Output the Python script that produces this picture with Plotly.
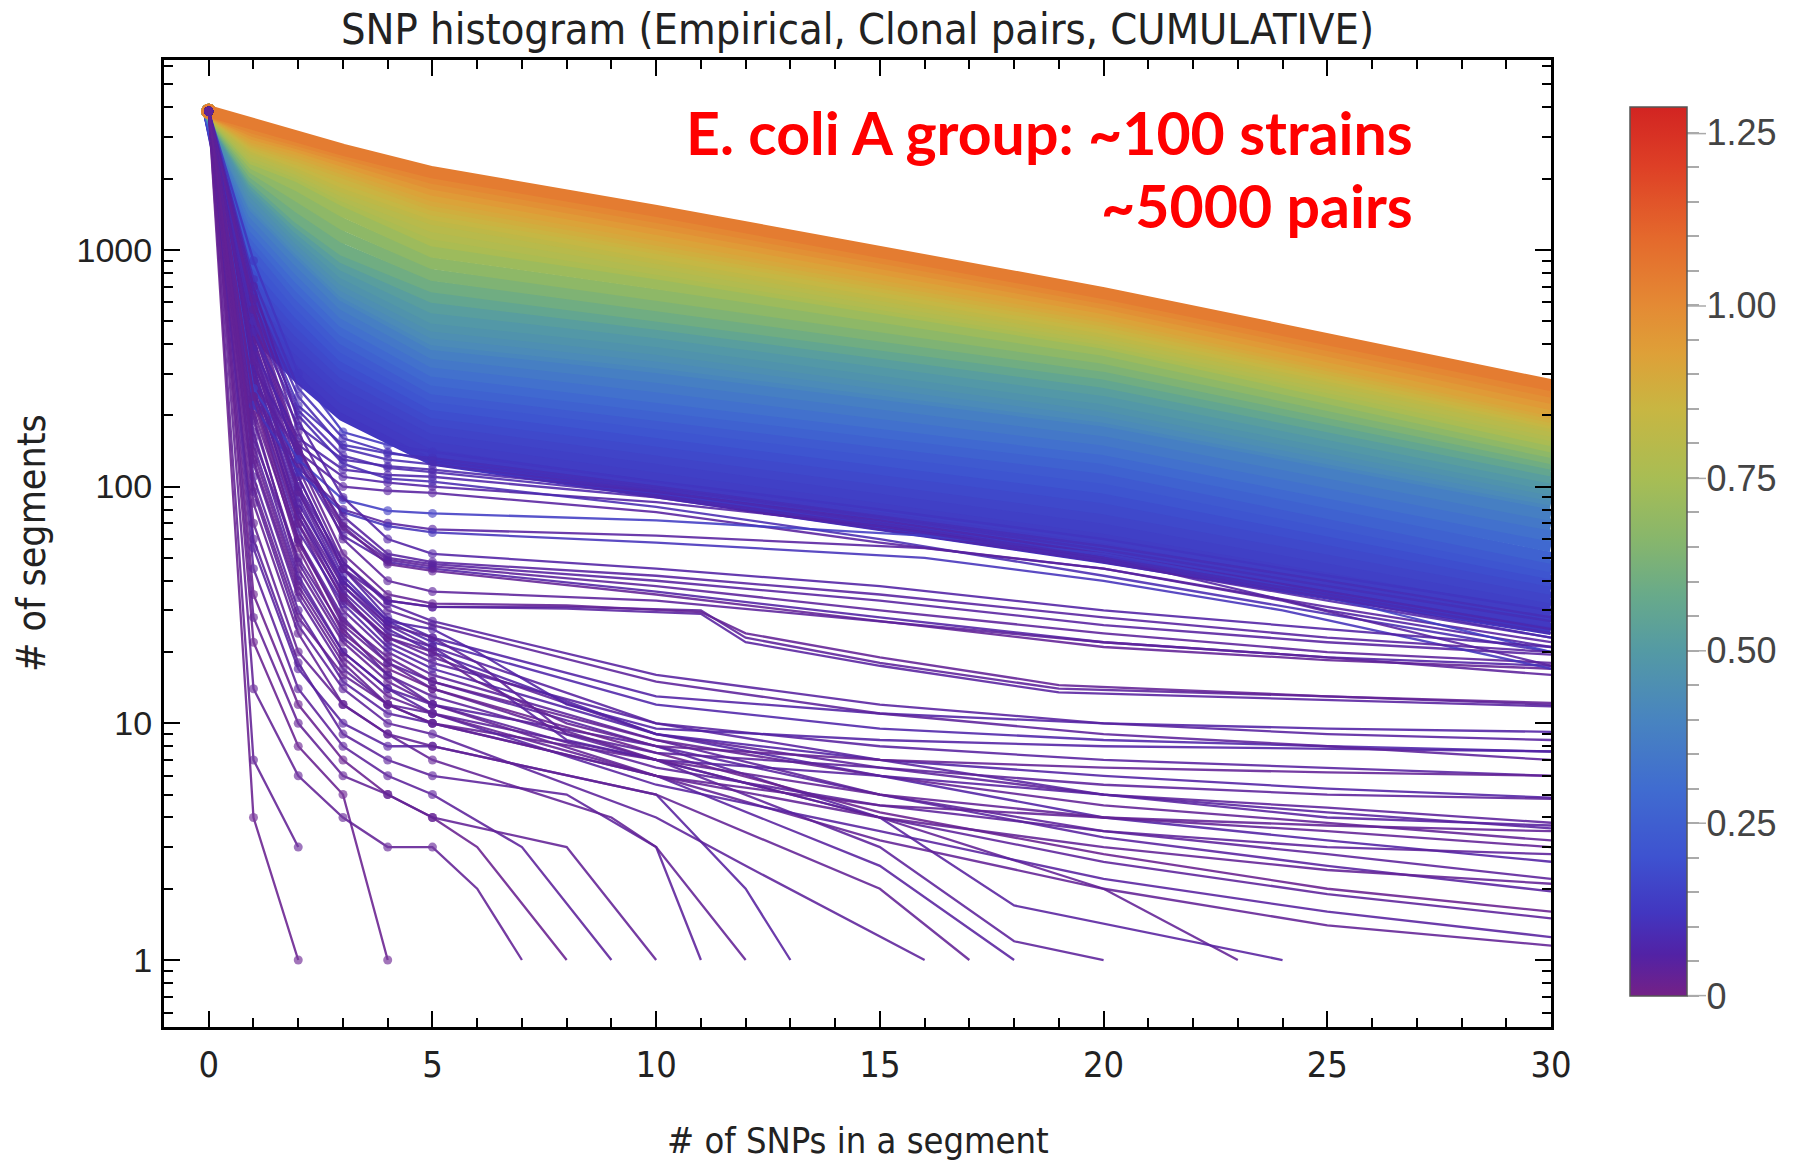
import plotly.graph_objects as go
from plotly.colors import sample_colorscale

# ---------------------------------------------------------------------------
# Data: cumulative number of genome segments having >= k SNPs, per strain pair
# ---------------------------------------------------------------------------

# Dense family of curves (colour = divergence value on the colour bar)
band_x = [0, 1, 2, 3, 5, 10, 20, 30]
band_c = [1.04, 1.01, 0.98, 0.95, 0.92, 0.90, 0.88, 0.86, 0.84, 0.82, 0.80, 0.78,
          0.76, 0.72, 0.68, 0.64, 0.60, 0.56, 0.52, 0.49, 0.47, 0.45, 0.43, 0.41,
          0.38, 0.35, 0.32, 0.29, 0.26, 0.23, 0.21, 0.19, 0.175, 0.16, 0.15, 0.14,
          0.13, 0.12]
band_y = [
    [3850, 3377, 2989, 2646, 2127, 1461, 657, 268],
    [3850, 3276, 2900, 2555, 2012, 1378, 626, 252],
    [3850, 3177, 2813, 2467, 1902, 1300, 596, 237],
    [3850, 3083, 2731, 2382, 1798, 1226, 567, 223],
    [3850, 2990, 2650, 2300, 1700, 1156, 540, 210],
    [3850, 2924, 2567, 2202, 1623, 1106, 521, 204],
    [3850, 2858, 2486, 2108, 1550, 1057, 502, 197],
    [3850, 2794, 2408, 2018, 1480, 1011, 484, 191],
    [3850, 2731, 2333, 1932, 1414, 967, 467, 186],
    [3850, 2670, 2260, 1850, 1350, 925, 450, 180],
    [3850, 2583, 2185, 1772, 1259, 880, 434, 172],
    [3850, 2498, 2113, 1696, 1174, 836, 419, 165],
    [3850, 2417, 2044, 1623, 1095, 795, 405, 157],
    [3850, 2311, 1869, 1457, 983, 723, 378, 148],
    [3850, 2210, 1685, 1285, 878, 652, 350, 140],
    [3850, 2113, 1520, 1133, 784, 588, 324, 132],
    [3850, 2020, 1370, 1000, 700, 530, 300, 125],
    [3850, 1955, 1302, 928, 633, 487, 277, 117],
    [3850, 1891, 1237, 862, 572, 448, 256, 109],
    [3850, 1830, 1176, 800, 517, 412, 236, 102],
    [3850, 1750, 1118, 750, 478, 382, 221, 97],
    [3850, 1664, 1063, 707, 447, 358, 209, 92],
    [3850, 1582, 1011, 666, 418, 335, 197, 88],
    [3850, 1530, 978, 640, 400, 320, 190, 85],
    [3850, 1432, 901, 588, 367, 291, 173, 76],
    [3850, 1341, 830, 541, 337, 265, 158, 69],
    [3850, 1255, 766, 497, 309, 241, 144, 62],
    [3850, 1175, 705, 457, 283, 220, 132, 56],
    [3850, 1100, 650, 420, 260, 200, 120, 50],
    [3850, 996, 594, 387, 241, 184, 109, 46],
    [3850, 902, 543, 356, 223, 170, 99, 43],
    [3850, 817, 497, 328, 206, 156, 90, 40],
    [3850, 739, 454, 302, 191, 144, 81, 37],
    [3850, 670, 415, 278, 177, 132, 74, 34],
    [3850, 606, 380, 256, 164, 122, 67, 31.5],
    [3850, 549, 347, 236, 152, 112, 61, 29],
    [3850, 497, 317, 217, 140, 103, 55, 27],
    [3850, 450, 290, 200, 130, 95, 50, 25],
]

# Individual low-divergence curves (thin purple lines)
X11 = [0, 1, 2, 3, 4, 5, 10, 15, 20, 25, 30]
XB = [0, 1, 2, 3, 4, 5, 8, 11, 12, 15, 19, 25, 30]
XD = [0, 1, 2, 3, 4, 5, 6, 8, 10, 15, 20, 25, 30]
XG2 = [0, 1, 2, 3, 4, 5, 10, 16, 20, 24, 30]

thin_x = [
    [0, 1, 2], [0, 1, 2], [0, 1, 2, 3, 4], [0, 1, 2, 3, 4, 5, 6, 7],
    [0, 1, 2, 3, 4, 5, 6, 8], [0, 1, 2, 3, 4, 5, 7, 9], [0, 1, 2, 3, 4, 5, 8, 10],
    [0, 1, 2, 3, 4, 5, 8, 10, 11], [0, 1, 2, 3, 4, 5, 9, 10, 12],
    [0, 1, 2, 3, 4, 5, 10, 12, 13], [0, 1, 2, 3, 4, 5, 10, 12, 16],
    [0, 1, 2, 3, 4, 5, 10, 15, 17], [0, 1, 2, 3, 4, 5, 10, 15, 18],
    [0, 1, 2, 3, 4, 5, 10, 15, 18, 20], [0, 1, 2, 3, 4, 5, 10, 15, 20, 23],
    [0, 1, 2, 3, 4, 5, 10, 15, 18, 24],
    X11, X11, X11, X11, X11, X11, X11, X11, X11, X11, X11, X11, X11, X11, X11,
    XB, XB, XB,
    X11, X11, X11, X11,
    XD, XD, XD, XD,
    X11, X11, X11, X11, X11, X11,
    XG2, XG2, XG2,
    X11, X11, X11, X11, X11, X11, X11, X11, X11, X11, X11, X11,
]
thin_y = [
    [3850, 4, 1], [3850, 7, 3], [3850, 22, 8, 5, 1], [3850, 14, 6, 4, 3, 3, 2, 1],
    [3850, 35, 12, 7, 5, 4, 3, 1], [3850, 45, 14, 8, 6, 5, 3, 1], [3850, 28, 10, 6, 5, 4, 3, 1],
    [3850, 60, 18, 9, 7, 6, 5, 3, 1], [3850, 85, 24, 12, 9, 7, 4, 3, 1],
    [3850, 55, 17, 10, 8, 8, 5, 2, 1], [3850, 95, 26, 14, 10, 9, 4, 2.5, 1],
    [3850, 70, 20, 12, 9, 8, 5, 2, 1], [3850, 110, 30, 15, 11, 10, 6, 2.5, 1],
    [3850, 125, 34, 17, 12, 11, 7, 3, 1.2, 1], [3850, 100, 28, 16, 12, 10, 7, 4, 2, 1],
    [3850, 150, 40, 20, 14, 12, 8, 4, 1.7, 1],
    # curves reaching the right edge at a few segments
    [3850, 200, 45, 22, 15, 12, 6, 3.2, 2, 1.4, 1.15],
    [3850, 170, 42, 20, 14, 11, 5.5, 3.5, 2.2, 1.6, 1.25],
    [3850, 160, 50, 25, 16, 13, 7, 4, 2.6, 1.9, 1.5],
    [3850, 230, 55, 24, 17, 14, 7.5, 4.2, 2.8, 2, 1.6],
    [3850, 250, 60, 28, 18, 15, 8, 5, 3.3, 2.5, 1.95],
    [3850, 140, 38, 19, 13, 11, 6, 4, 3, 2.4, 2.1],
    [3850, 300, 70, 30, 20, 16, 8.5, 5, 3.5, 2.8, 2.2],
    [3850, 260, 65, 32, 21, 17, 9, 6, 4, 3.2, 2.6],
    [3850, 210, 58, 27, 19, 15, 8.5, 6, 4.5, 3.8, 3.2],
    [3850, 320, 80, 35, 22, 18, 10, 7, 5, 4.2, 3.6],
    [3850, 280, 75, 33, 23, 19, 9, 6.5, 5, 4.4, 3.8],
    [3850, 350, 90, 38, 25, 20, 9, 7, 6, 5.3, 4.85],
    [3850, 380, 95, 40, 26, 21, 10, 8, 7, 6.5, 6.0],
    [3850, 400, 100, 42, 27, 22, 12, 9.5, 8.5, 8, 7.6],
    [3850, 420, 110, 45, 28, 23, 13, 11, 10, 9.5, 9.2],
    # plateau near 31 then step down
    [3850, 420, 120, 48, 33, 31, 31, 30, 23, 18, 14, 13, 12],
    [3850, 380, 110, 45, 33, 31, 30.5, 29, 22, 17.5, 13.5, 12.5, 11.8],
    [3850, 450, 130, 52, 35, 32, 31.5, 29.5, 24, 19, 14.5, 13, 12.2],
    # curves from ~45 down to ~18
    [3850, 500, 140, 70, 50, 47, 40, 33, 26, 22, 19.5],
    [3850, 480, 135, 66, 49, 46, 38, 30, 24, 20, 18],
    [3850, 460, 130, 62, 48, 45, 36, 28, 22, 19, 17.5],
    [3850, 520, 145, 68, 47, 44, 35, 27, 21, 18.5, 17],
    # curves with a sharp drop after 5 SNPs
    [3850, 300, 80, 38, 26, 23, 18, 9, 7.5, 6.5, 5.5, 5, 4.8],
    [3850, 280, 75, 36, 24, 21, 16, 8.5, 7, 6, 5, 4, 3.7],
    [3850, 260, 70, 34, 23, 20, 15, 10, 8, 7, 6.5, 6.2, 6],
    [3850, 320, 85, 40, 27, 25, 20, 12, 9.5, 8.5, 8, 7.8, 7.6],
    # curves just below the dense band
    [3850, 600, 220, 150, 138, 132, 100, 75, 56, 40, 28],
    [3850, 450, 180, 130, 122, 118, 95, 72, 52, 36, 25],
    [3850, 380, 160, 118, 112, 110, 90, 66, 48, 33, 23],
    [3850, 320, 150, 110, 104, 100, 86, 68, 50, 30, 21],
    [3850, 500, 200, 125, 108, 105, 82, 60, 42, 29, 20],
    [3850, 280, 140, 100, 96, 94, 78, 58, 45, 31, 22],
    [3850, 260, 130, 88, 79, 77, 72, 62, 52, 38, 20],
    [3850, 240, 120, 80, 70, 66, 62, 55, 45, 33, 17.5],
    [3850, 220, 115, 78, 68, 64, 58, 50, 40, 30, 17],
    # further curves filling the steep fan near the origin
    [3850, 900, 300, 170, 150, 140, 105, 80, 60, 42, 30],
    [3850, 750, 260, 160, 140, 128, 98, 74, 54, 38, 27],
    [3850, 650, 240, 145, 130, 124, 96, 70, 50, 35, 24],
    [3850, 550, 210, 135, 120, 115, 92, 68, 49, 34, 23],
    [3850, 700, 190, 90, 60, 52, 45, 38, 30, 25, 21],
    [3850, 620, 170, 75, 52, 48, 42, 35, 28, 23, 20],
    [3850, 560, 150, 60, 40, 36, 33, 27, 22, 19, 16],
    [3850, 340, 95, 45, 30, 26, 15, 11, 9, 8, 7],
    [3850, 360, 100, 48, 32, 27, 16, 12, 10, 9, 8.5],
    [3850, 240, 60, 26, 18, 14, 7, 5, 4, 3.5, 3],
    [3850, 190, 48, 23, 16, 12, 6.5, 4.5, 3.5, 3, 2.8],
    [3850, 130, 36, 18, 12, 10, 6, 4.5, 4, 3.7, 3.5],
]
thin_c = [0.02, 0.03, 0.02, 0.03, 0.02, 0.04, 0.03, 0.04, 0.03, 0.05, 0.04, 0.03,
          0.05, 0.04, 0.03, 0.05,
          0.03, 0.05, 0.04, 0.02, 0.05, 0.03, 0.04, 0.06, 0.03, 0.05, 0.04, 0.06,
          0.05, 0.07, 0.06,
          0.04, 0.05, 0.03,
          0.05, 0.04, 0.06, 0.03,
          0.04, 0.05, 0.03, 0.06,
          0.10, 0.08, 0.07, 0.06, 0.09, 0.05,
          0.14, 0.05, 0.11,
          0.12, 0.10, 0.09, 0.08, 0.06, 0.05, 0.04, 0.04, 0.05, 0.03, 0.04, 0.03]

# Colour bar
C_MAX = 1.287
cbar_ticks = [0, 0.25, 0.50, 0.75, 1.00, 1.25]
cbar_labels = ["0", "0.25", "0.50", "0.75", "1.00", "1.25"]
stops = [
    (0.00, "rgb(116,33,134)"), (0.06, "rgb(82,34,165)"), (0.12, "rgb(66,54,192)"),
    (0.20, "rgb(62,82,208)"), (0.30, "rgb(64,108,208)"), (0.40, "rgb(72,132,192)"),
    (0.50, "rgb(84,154,164)"), (0.58, "rgb(104,170,138)"), (0.66, "rgb(135,182,108)"),
    (0.75, "rgb(168,189,84)"), (0.85, "rgb(200,182,66)"), (0.93, "rgb(222,160,56)"),
    (1.00, "rgb(228,138,52)"), (1.10, "rgb(228,104,44)"), (1.20, "rgb(222,64,38)"),
    (1.287, "rgb(210,36,34)"),
]
colorscale = [[v / C_MAX, c] for v, c in stops]


def cmap(v):
    return sample_colorscale(colorscale, [min(max(v / C_MAX, 0), 1)])[0]


def marker_sizes(xs, s, upto=5):
    return [s if x <= upto else 0 for x in xs]


fig = go.Figure()

# low-divergence curves of the band first, so the flatter high-divergence ones sit on top
for c, ys in reversed(list(zip(band_c, band_y))):
    col = cmap(c)
    fig.add_trace(go.Scatter(
        x=band_x, y=ys, mode="lines+markers",
        line=dict(color=col, width=12),
        marker=dict(color=col, size=marker_sizes(band_x, 15, upto=0), line=dict(width=0)),
        hoverinfo="skip"))

for xs, ys, c in zip(thin_x, thin_y, thin_c):
    col = cmap(c)
    fig.add_trace(go.Scatter(
        x=xs, y=ys, mode="lines+markers", opacity=0.88,
        line=dict(color=col, width=2.3),
        marker=dict(color=col, size=marker_sizes(xs, 9), line=dict(width=0)),
        hoverinfo="skip"))

# colour bar carrier
L, R, T, B = 164, 1551, 60, 1027
W, H = R - L, B - T
fig.add_trace(go.Scatter(
    x=[-5], y=[100], mode="markers", hoverinfo="skip",
    marker=dict(size=1, color=[0], cmin=0, cmax=C_MAX, colorscale=colorscale, showscale=True,
                colorbar=dict(
                    x=(1630 - L) / W, xanchor="left", y=(B - 107) / H, yanchor="top",
                    xpad=0, ypad=0, thickness=57, thicknessmode="pixels",
                    len=889, lenmode="pixels",
                    outlinewidth=1.5, outlinecolor="#555",
                    tickmode="array",
                    tickvals=[round(0.05 * i, 2) for i in range(26)],
                    ticktext=[cbar_labels[cbar_ticks.index(round(0.05 * i, 2))]
                              if round(0.05 * i, 2) in cbar_ticks else "" for i in range(26)],
                    ticks="outside", ticklen=12, tickwidth=1.5, tickcolor="#aaa",
                    tickfont=dict(family="Liberation Sans, Arial", size=36, color="#444"),
                ))))

# longer major ticks on the colour bar
for v in cbar_ticks:
    yp = 995.6 - v / 1.25 * (995.6 - 133.6)
    fig.add_shape(type="line", xref="paper", yref="paper",
                  x0=(1687 - L) / W, x1=(1706 - L) / W,
                  y0=(B - yp) / H, y1=(B - yp) / H,
                  line=dict(color="#aaa", width=1.5))

x_major = [0, 5, 10, 15, 20, 25, 30]
x_minor = [i for i in range(0, 31) if i % 5]
y_major = [1, 10, 100, 1000]
y_minor = [0.6, 0.7, 0.8, 0.9] + [m * d for d in (1, 10, 100) for m in range(2, 10)] + [2000, 3000, 4000, 5000, 6000]

axis_common = dict(showline=True, linewidth=3, linecolor="black", mirror="allticks",
                   ticks="inside", ticklen=16, tickwidth=2, tickcolor="black",
                   showgrid=False, zeroline=False)

NARROW = "Liberation Sans Narrow, Arial Narrow, DejaVu Sans Condensed, Liberation Sans"

fig.update_xaxes(range=[-1.0, 30.0], tickmode="array", tickvals=x_major,
                 ticktext=[str(v) for v in x_major],
                 tickfont=dict(family=NARROW, size=36, color="#222"),
                 ticklabelstandoff=4,
                 minor=dict(tickmode="array", tickvals=x_minor, ticks="inside", ticklen=9,
                            tickwidth=1.5, tickcolor="black"),
                 **axis_common)
fig.update_yaxes(type="log", range=[-0.283, 3.802], tickmode="array", tickvals=y_major,
                 ticktext=[str(v) for v in y_major],
                 tickfont=dict(family="Liberation Sans, Arial", size=34, color="#222"),
                 ticklabelstandoff=2,
                 minor=dict(tickmode="array", tickvals=y_minor, ticks="inside", ticklen=9,
                            tickwidth=1.5, tickcolor="black"),
                 **axis_common)

annos = [
    dict(text="SNP histogram (Empirical, Clonal pairs, CUMULATIVE)", x=0.5, y=(B - 29) / H,
         xanchor="center", yanchor="middle",
         font=dict(family=NARROW, size=43, color="#222")),
    dict(text="# of SNPs in a segment", x=0.5, y=(B - 1140) / H, xanchor="center", yanchor="middle",
         font=dict(family=NARROW, size=36, color="#222")),
    dict(text="# of segments", x=(31 - L) / W, y=(B - 543) / H, xanchor="center", yanchor="middle",
         textangle=-90,
         font=dict(family=NARROW, size=39, color="#222")),
    dict(text="E. coli A group: ~100 strains", x=(1415 - L) / W, y=(B - 132) / H,
         xanchor="right", yanchor="middle",
         font=dict(family="Lato", size=59, color="#ff0000", weight="bold")),
    dict(text="~5000 pairs", x=(1415 - L) / W, y=(B - 206) / H,
         xanchor="right", yanchor="middle",
         font=dict(family="Lato", size=59, color="#ff0000", weight="bold")),
]
for a in annos:
    fig.add_annotation(xref="paper", yref="paper", showarrow=False, **a)

fig.update_layout(width=1799, height=1161, margin=dict(l=L, r=1799 - R, t=T, b=1161 - B),
                  paper_bgcolor="white", plot_bgcolor="white", showlegend=False)

fig.write_html("out.html")
